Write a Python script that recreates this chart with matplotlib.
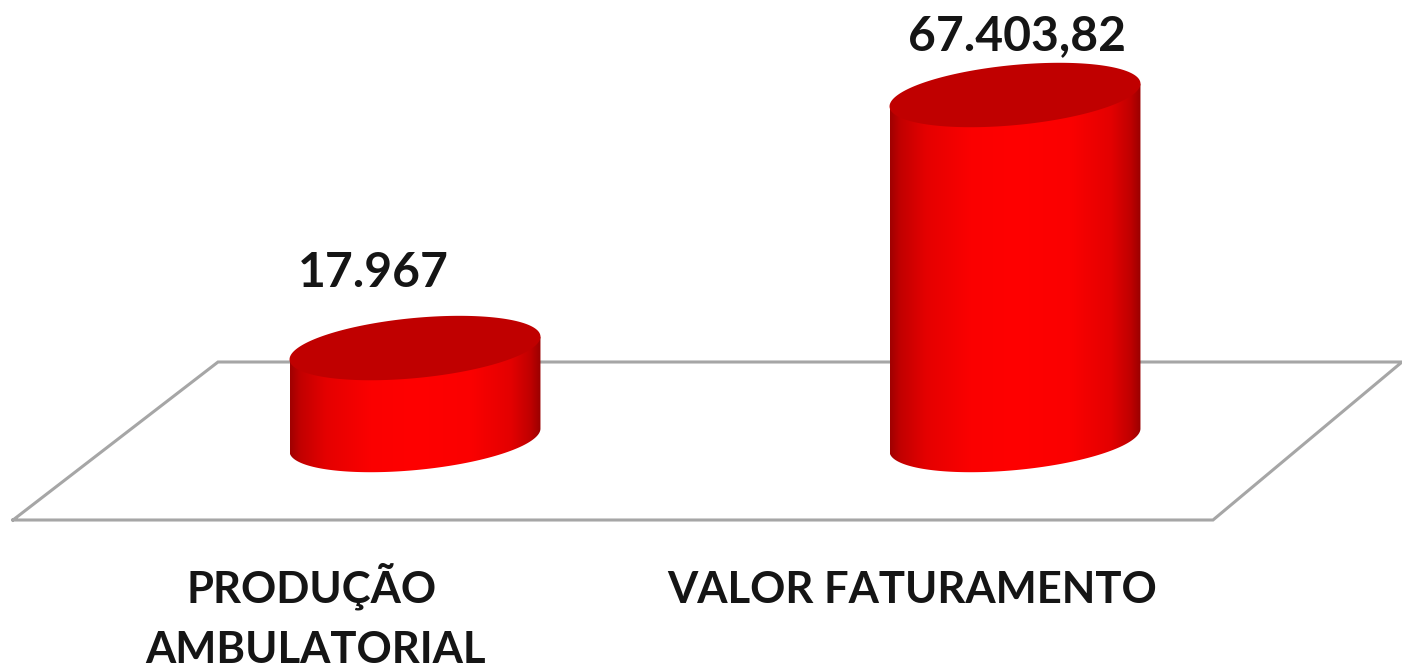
import numpy as np
import matplotlib
matplotlib.use("Agg")
import matplotlib.pyplot as plt
from matplotlib.colors import LinearSegmentedColormap
from matplotlib.patches import Polygon

categories = ["PRODUÇÃO\nAMBULATORIAL", "VALOR FATURAMENTO"]
values = [17967, 67403.82]
value_labels = ["17.967", "67.403,82"]

W, H = 1402, 667
fig = plt.figure(figsize=(W / 100, H / 100), dpi=100, facecolor="white")
ax = fig.add_axes([0, 0, 1, 1])
ax.axis("off")

# data scale: x = category index, y = value
PX_X = 600.0
PX_Y = 345.0 / 67403.82
X0, Y0 = 415.0, 440.0
XLIM = (-X0 / PX_X, (W - X0) / PX_X)
YLIM = ((Y0 - H) / PX_Y, Y0 / PX_Y)


def to_data(px, py):
    return (np.asarray(px, float) - X0) / PX_X, (Y0 - np.asarray(py, float)) / PX_Y


floor_px = [(13, 520), (1213, 520), (1402, 362), (218, 362), (13, 520)]
fx, fy = to_data([p[0] for p in floor_px], [p[1] for p in floor_px])
ax.plot(fx, fy, color="#a6a6a6", lw=2.2, solid_joinstyle="miter", zorder=1)

cmap = LinearSegmentedColormap.from_list(
    "cyl",
    [(0, "#a00000"), (0.04, "#c20000"), (0.14, "#e40000"), (0.32, "#fb0000"), (0.5, "#ff0000"),
     (0.72, "#fb0000"), (0.88, "#e40000"), (0.96, "#c00000"), (1, "#9a0000")],
)
A, B, TILT = 126.0, 30.0, np.deg2rad(5.5)
t = np.linspace(0, 2 * np.pi, 721)[:-1]


def ellipse(cx, cy):
    ex = A * np.cos(t)
    ey = B * np.sin(t)
    return (cx + ex * np.cos(TILT) + ey * np.sin(TILT),
            cy - ex * np.sin(TILT) + ey * np.cos(TILT))


grad = np.linspace(0, 1, 256).reshape(1, -1)
for i, val in enumerate(values):
    cx_px = X0 + i * PX_X
    top_py = Y0 - val * PX_Y
    bx, by = ellipse(cx_px, Y0)
    tx, ty = ellipse(cx_px, top_py)
    i_r, i_l = int(np.argmax(bx)), int(np.argmin(bx))
    # lower arc of the bottom ellipse, from right extreme to left extreme (screen y grows downward)
    order = np.roll(np.arange(len(t)), -i_r)
    k = int(np.where(order == i_l)[0][0])
    arc = order[: k + 1]
    ox = np.r_[bx[arc], tx[i_l], tx[i_r]]
    oy = np.r_[by[arc], ty[i_l], ty[i_r]]
    dx, dy = to_data(ox, oy)
    body = Polygon(np.c_[dx, dy], closed=True, fc="none", ec="none")
    ax.add_patch(body)
    x0, y0 = to_data(bx[i_l], top_py - 40)
    x1, y1 = to_data(bx[i_r], Y0 + 40)
    im = ax.imshow(grad, cmap=cmap, extent=[x0, x1, y1, y0], aspect="auto", zorder=2, interpolation="bilinear")
    im.set_clip_path(body)
    ex_d, ey_d = to_data(tx, ty)
    ax.add_patch(Polygon(np.c_[ex_d, ey_d], closed=True, fc="#c00000", ec="none", zorder=3))

ax.set_xlim(*XLIM)
ax.set_ylim(*YLIM)

base = dict(family="Lato", fontweight="bold", color="#151515", ha="center", va="baseline", zorder=5)
for s, lx_, ly_ in zip(value_labels, [373, 1017], [287, 50]):
    x_, y_ = to_data(lx_, ly_)
    ax.text(x_, y_, s, fontsize=34.6, **base)
lines = [(categories[0].split("\n")[0], 312, 603), (categories[0].split("\n")[1], 315, 663), (categories[1], 912, 603)]
for s, lx_, ly_ in lines:
    x_, y_ = to_data(lx_, ly_)
    ax.text(x_, y_, s, fontsize=31.4, **base)

fig.savefig("out.png", dpi=100, facecolor="white")
